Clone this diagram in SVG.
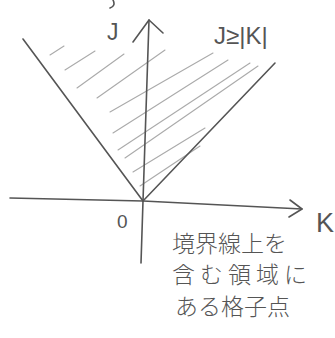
<svg xmlns="http://www.w3.org/2000/svg" width="335" height="338" viewBox="0 0 335 338">
<style>
.ax{stroke:#555;stroke-width:1.6;fill:none;stroke-linecap:round;stroke-linejoin:round}
.ht{stroke:#aaa;stroke-width:1.1;fill:none;stroke-linecap:round}
.lb{font-family:"Liberation Sans","DejaVu Sans",sans-serif;fill:#555}
.jp{font-family:"Noto Sans CJK JP",sans-serif;fill:#555;font-size:23px;font-weight:300}
</style>
<rect width="335" height="338" fill="#fff"/>
<g id="hatching">
<path class="ht" d="M50 55 L64 46"/>
<path class="ht" d="M65 70 L95 51"/>
<path class="ht" d="M77 88 L124 54"/>
<path class="ht" d="M97 98 L165 50"/>
<path class="ht" d="M110 112 L213 53"/>
<path class="ht" d="M113 133 L228 60"/>
<path class="ht" d="M118 150 L250 63"/>
<path class="ht" d="M125 158 L258 66"/>
<path class="ht" d="M133 172 L205 128"/>
<path class="ht" d="M140 186 L200 146"/>
</g>
<g id="connectors">
<path id="k-axis" class="ax" d="M10 198 L143 201 L302 209"/>
<path class="ax" d="M290 200 L302 209 L289 217"/>
<path id="j-axis" class="ax" d="M141 263 L143 201 L149 20"/>
<path class="ax" d="M133 42 L149 20 L163 33"/>
<path id="left-boundary" class="ax" d="M23 39 L143 201"/>
<path id="right-boundary" class="ax" d="M143 201 L275 63"/>
<path class="ax" d="M113 0 Q116 6 110 8" stroke-width="1.4"/>
</g>
<g id="label-J"><text class="lb" x="107" y="40" font-size="23">J</text></g>
<g id="label-cond"><text class="lb" x="214" y="44" font-size="24">J≥|K|</text></g>
<g id="label-O"><text class="lb" x="117" y="228" font-size="19">0</text></g>
<g id="label-K"><text class="lb" x="316" y="232" font-size="27">K</text></g>
<g id="note">
<text class="jp" x="172" y="252">境界線上を</text>
<text class="jp" x="172" y="283" letter-spacing="5">含む領域に</text>
<text class="jp" x="175" y="315">ある格子点</text>
</g>
</svg>
